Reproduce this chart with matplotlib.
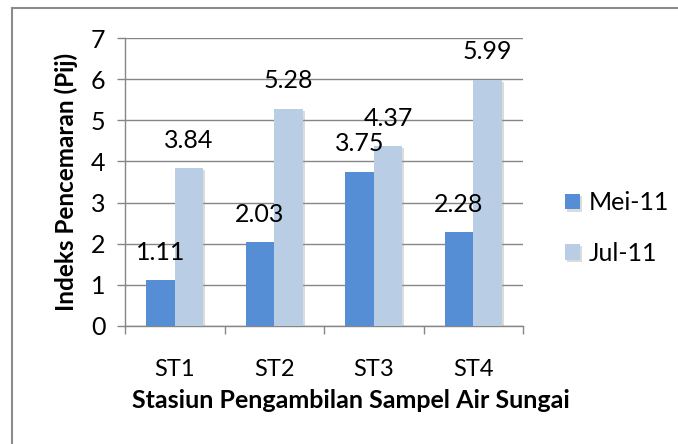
import matplotlib.pyplot as plt
import matplotlib.patheffects as pe
from matplotlib.lines import Line2D
import numpy as np

plt.rcParams['font.family'] = ['Lato', 'DejaVu Sans']

stasiun = ['ST1', 'ST2', 'ST3', 'ST4']
mei_11 = [1.11, 2.03, 3.75, 2.28]
jul_11 = [3.84, 5.28, 4.37, 5.99]

c_mei = '#558ED5'
c_jul = '#B9CDE5'
c_axis = '#868686'

fig = plt.figure(figsize=(6.78, 4.44), dpi=100)
ax = fig.add_axes([0.1844, 0.2658, 0.587, 0.6486])

x = np.arange(len(stasiun))
w = 0.287
shadow = [pe.SimplePatchShadow(offset=(1.5, -1.5), shadow_rgbFace='#999999', alpha=0.35), pe.Normal()]
b1 = ax.bar(x - w / 2, mei_11, w, color=c_mei, label='Mei-11', zorder=3, path_effects=shadow)
b2 = ax.bar(x + w / 2, jul_11, w, color=c_jul, label='Jul-11', zorder=3, path_effects=shadow)

# nilai di atas batang
for bars, vals in ((b1, mei_11), (b2, jul_11)):
    for r, v in zip(bars, vals):
        ax.annotate(f'{v:.2f}', (r.get_x() + r.get_width() / 2, v),
                    xytext=(0, 20), textcoords='offset points',
                    ha='center', va='center', fontsize=18, zorder=5)

ax.set_xlim(-0.5, 3.5)
ax.set_ylim(0, 7)
ax.set_yticks(range(8))
ax.set_xticks(x)
ax.set_xticklabels(stasiun, fontsize=17)
ax.set_xticks(np.arange(-0.5, 4, 1), minor=True)
ax.tick_params(axis='x', which='major', length=0, pad=24)
ax.tick_params(axis='x', which='minor', length=6, color=c_axis, width=1)
ax.tick_params(axis='y', length=6, color=c_axis, width=1, labelsize=18, pad=8)

ax.grid(axis='y', color=c_axis, linewidth=1, zorder=0)
for s in ('top', 'right'):
    ax.spines[s].set_visible(False)
for s in ('left', 'bottom'):
    ax.spines[s].set_color(c_axis)
    ax.spines[s].set_linewidth(1)

ax.set_xlabel('Stasiun Pengambilan Sampel Air Sungai', fontsize=18, fontweight='bold',
              labelpad=6, x=0.568)
ax.set_ylabel('Indeks Pencemaran (Pij)', fontsize=17.5, fontweight='bold', labelpad=9)

ax.legend(loc='center left', bbox_to_anchor=(1.05, 0.34), frameon=False, fontsize=18,
          handlelength=0.6, handleheight=0.6, handletextpad=0.35, labelspacing=1.1)

# bingkai grafik
fig.add_artist(Line2D([12 / 678, 12 / 678], [0, 1 - 8 / 444], color='#8C8C8C', linewidth=1.5))
fig.add_artist(Line2D([12 / 678, 1], [1 - 8 / 444, 1 - 8 / 444], color='#8C8C8C', linewidth=1.5))

fig.savefig('out.png', dpi=100)
